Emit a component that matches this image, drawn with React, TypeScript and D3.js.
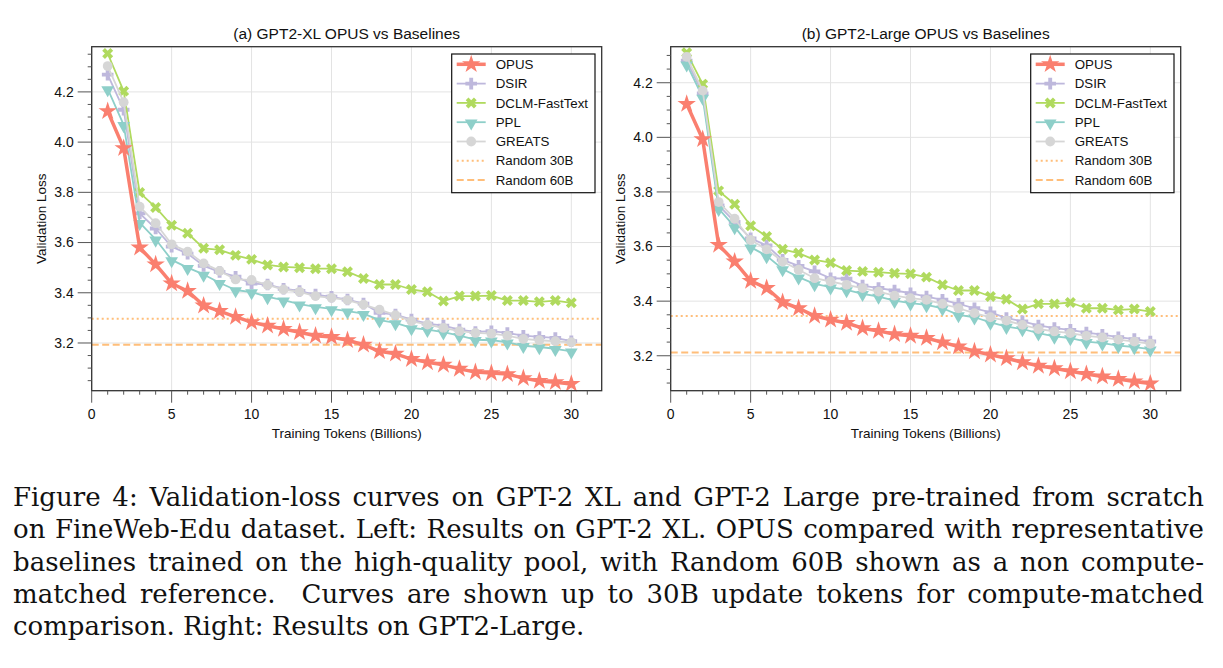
import React from 'react';
import * as d3 from 'd3';

// training tokens (billions)
const tokens = [1,2,3,4,5,6,7,8,9,10,11,12,13,14,15,16,17,18,19,20,21,22,23,24,25,26,27,28,29,30];

// (a) GPT2-XL
const xlOpus = [4.123,3.976,3.58,3.513,3.437,3.407,3.349,3.327,3.304,3.283,3.269,3.256,3.243,3.229,3.224,3.211,3.193,3.167,3.157,3.136,3.123,3.113,3.097,3.084,3.08,3.076,3.06,3.049,3.044,3.037];
const xlDsir = [4.269,4.129,3.716,3.656,3.584,3.556,3.507,3.483,3.464,3.437,3.433,3.416,3.407,3.393,3.384,3.373,3.357,3.32,3.313,3.293,3.277,3.269,3.253,3.244,3.247,3.24,3.229,3.224,3.22,3.207];
const xlDclm = [4.353,4.203,3.799,3.74,3.669,3.637,3.577,3.571,3.549,3.533,3.511,3.503,3.5,3.496,3.496,3.484,3.457,3.433,3.433,3.413,3.404,3.367,3.387,3.387,3.389,3.369,3.369,3.364,3.369,3.36];
const xlPpl = [4.212,4.069,3.679,3.613,3.531,3.5,3.473,3.44,3.411,3.403,3.384,3.371,3.355,3.344,3.336,3.327,3.317,3.291,3.28,3.26,3.253,3.243,3.229,3.213,3.211,3.203,3.189,3.184,3.177,3.167];
const xlGreats = [4.303,4.159,3.743,3.677,3.593,3.564,3.517,3.487,3.453,3.451,3.431,3.413,3.404,3.387,3.38,3.371,3.353,3.333,3.311,3.287,3.273,3.26,3.247,3.24,3.237,3.229,3.216,3.211,3.207,3.203];
const xlRandom = [3.297, 3.193]; // 30B, 60B

// (b) GPT2-Large
const lgOpus = [4.122,3.993,3.606,3.545,3.474,3.448,3.396,3.374,3.346,3.332,3.32,3.301,3.291,3.279,3.273,3.265,3.249,3.234,3.216,3.204,3.191,3.176,3.163,3.154,3.143,3.133,3.124,3.115,3.106,3.098];
const lgDsir = [4.281,4.161,3.751,3.69,3.63,3.604,3.551,3.529,3.509,3.484,3.482,3.457,3.448,3.439,3.429,3.417,3.405,3.39,3.374,3.359,3.338,3.326,3.311,3.301,3.295,3.285,3.277,3.268,3.261,3.252];
const lgDclm = [4.31,4.195,3.804,3.755,3.676,3.637,3.59,3.576,3.551,3.541,3.512,3.509,3.506,3.502,3.5,3.488,3.46,3.439,3.439,3.417,3.407,3.371,3.39,3.39,3.395,3.374,3.374,3.368,3.371,3.362];
const lgPpl = [4.268,4.146,3.739,3.672,3.598,3.566,3.518,3.488,3.463,3.451,3.441,3.427,3.417,3.402,3.393,3.386,3.374,3.35,3.341,3.322,3.307,3.298,3.283,3.271,3.265,3.252,3.246,3.237,3.232,3.224];
const lgGreats = [4.295,4.171,3.763,3.702,3.624,3.59,3.545,3.515,3.484,3.472,3.46,3.448,3.435,3.42,3.411,3.405,3.39,3.374,3.356,3.341,3.329,3.313,3.298,3.289,3.283,3.273,3.267,3.259,3.252,3.244];
const lgRandom = [3.346, 3.212];

const methods = ['OPUS', 'DSIR', 'DCLM-FastText', 'PPL', 'GREATS'];
const randomNames = ['Random 30B', 'Random 60B'];
const xTicks = [0, 5, 10, 15, 20, 25, 30];
const yTicks = [3.2, 3.4, 3.6, 3.8, 4.0, 4.2];

const captionLines = [
  'Figure 4: Validation-loss curves on GPT-2 XL and GPT-2 Large pre-trained from scratch',
  'on FineWeb-Edu dataset. Left: Results on GPT-2 XL. OPUS compared with representative',
  'baselines trained on the high-quality pool, with Random 60B shown as a non compute-',
  'matched reference.  Curves are shown up to 30B update tokens for compute-matched',
  'comparison. Right: Results on GPT2-Large.',
];

const colors = ['#FA7F6F', '#BEB8DC', '#B0DA5E', '#8ECFC9', '#D6D6D6'];
const randColor = '#FFBE7A';
const font = '"Liberation Sans", Arial, sans-serif';

const star = d3.symbol(d3.symbolStar, 105)();
const plus = d3.symbol(d3.symbolCross, 75)();
const circle = d3.symbol(d3.symbolCircle, 75)();
const tri = d3.symbol(d3.symbolTriangle, 70)();

const Marker = ({ i, x, y }: { i: number; x: number; y: number }) => {
  const c = colors[i];
  if (i === 0) return <path d={star} transform={`translate(${x},${y})`} fill={c} />;
  if (i === 1) return <path d={plus} transform={`translate(${x},${y})`} fill={c} />;
  if (i === 2) return <path d={plus} transform={`translate(${x},${y}) rotate(45)`} fill={c} />;
  if (i === 3) return <path d={tri} transform={`translate(${x},${y + 1}) rotate(180)`} fill={c} />;
  return <path d={circle} transform={`translate(${x},${y})`} fill={c} />;
};

type PanelProps = {
  title: string;
  left: number;
  yDomain: [number, number];
  series: number[][];
  random: number[];
};

const Panel = ({ title, left, yDomain, series, random }: PanelProps) => {
  const top = 46.7, bottom = 390.7;
  const x = d3.scaleLinear().domain([0, 31.9]).range([left, left + 510]);
  const y = d3.scaleLinear().domain(yDomain).range([bottom, top]);
  const right = left + 510;
  const line = d3.line<number>().x((_, k) => x(tokens[k])).y(d => y(d));
  const xMinor = d3.range(0, 32, 1).filter(v => v % 5 !== 0);
  const yMinor = d3.range(Math.ceil(yDomain[0] / 0.05) * 0.05, yDomain[1], 0.05)
    .filter(v => Math.abs(v * 5 - Math.round(v * 5)) > 0.01);
  const order = [1, 2, 3, 4, 0];
  const lx = right - 150, ly = top + 7.3;
  return (
    <g>
      {xTicks.map(t => <line key={'gx' + t} x1={x(t)} x2={x(t)} y1={top} y2={bottom} stroke="#e3e3e3" strokeWidth={1} />)}
      {yTicks.map(t => <line key={'gy' + t} x1={left} x2={right} y1={y(t)} y2={y(t)} stroke="#e3e3e3" strokeWidth={1} />)}
      <line x1={left} x2={right} y1={y(random[0])} y2={y(random[0])} stroke={randColor} strokeWidth={2} strokeDasharray="2 3" />
      <line x1={left} x2={right} y1={y(random[1])} y2={y(random[1])} stroke={randColor} strokeWidth={2} strokeDasharray="7 3.5" />
      {order.map(i => (
        <g key={'s' + i}>
          <path d={line(series[i]) || ''} fill="none" stroke={colors[i]} strokeWidth={i === 0 ? 3.5 : 1.8} strokeLinejoin="round" />
          {series[i].map((v, k) => <Marker key={k} i={i} x={x(tokens[k])} y={y(v)} />)}
        </g>
      ))}
      <rect x={left} y={top} width={right - left} height={bottom - top} fill="none" stroke="#333" strokeWidth={1.3} />
      {xTicks.map(t => (
        <g key={'xt' + t}>
          <line x1={x(t)} x2={x(t)} y1={bottom} y2={bottom + 12} stroke="#555" strokeWidth={1} />
          <text x={x(t)} y={bottom + 28.5} textAnchor="middle" fontSize={14} fontFamily={font} fill="#111">{t}</text>
        </g>
      ))}
      {xMinor.map(t => <line key={'xm' + t} x1={x(t)} x2={x(t)} y1={bottom} y2={bottom + 4} stroke="#555" strokeWidth={1} />)}
      {yTicks.map(t => (
        <g key={'yt' + t}>
          <line x1={left - 14} x2={left} y1={y(t)} y2={y(t)} stroke="#555" strokeWidth={1} />
          <text x={left - 18} y={y(t)} dy="0.35em" textAnchor="end" fontSize={14} fontFamily={font} fill="#111">{t.toFixed(1)}</text>
        </g>
      ))}
      {yMinor.map(t => <line key={'ym' + t} x1={left - 4} x2={left} y1={y(t)} y2={y(t)} stroke="#555" strokeWidth={1} />)}
      <text x={(left + right) / 2} y={39} textAnchor="middle" fontSize={15.5} fontFamily={font} fill="#111">{title}</text>
      <text x={(left + right) / 2} y={438} textAnchor="middle" fontSize={13.5} fontFamily={font} fill="#111">Training Tokens (Billions)</text>
      <text transform={`translate(${left - 50},${(top + bottom) / 2}) rotate(-90)`} textAnchor="middle" dy="0.35em" fontSize={13.5} fontFamily={font} fill="#111">Validation Loss</text>
      <g transform={`translate(${lx},${ly})`}>
        <rect x={0} y={0} width={143.3} height={138.7} fill="white" stroke="#111" strokeWidth={1.2} />
        {methods.map((m, i) => (
          <g key={m} transform={`translate(0,${10.3 + i * 19.3})`}>
            <line x1={5} x2={34} y1={0} y2={0} stroke={colors[i]} strokeWidth={i === 0 ? 3.5 : 1.8} />
            <Marker i={i} x={19.5} y={0} />
            <text x={44} y={0} dy="0.35em" fontSize={13.3} fontFamily={font} fill="#111">{m}</text>
          </g>
        ))}
        {randomNames.map((m, j) => (
          <g key={m} transform={`translate(0,${10.3 + (5 + j) * 19.3})`}>
            <line x1={5} x2={34} y1={0} y2={0} stroke={randColor} strokeWidth={2} strokeDasharray={j === 0 ? '2 3' : '7 3.5'} />
            <text x={44} y={0} dy="0.35em" fontSize={13.3} fontFamily={font} fill="#111">{m}</text>
          </g>
        ))}
      </g>
    </g>
  );
};

export default function App() {
  return (
    <div style={{ position: 'absolute', left: 0, top: 0, width: 1223, height: 668, background: 'white' }}>
      <svg width={1223} height={668} style={{ position: 'absolute', left: 0, top: 0 }}>
        <rect width={1223} height={668} fill="white" />
        <Panel title="(a) GPT2-XL OPUS vs Baselines" left={91.7} yDomain={[3.01, 4.38]}
          series={[xlOpus, xlDsir, xlDclm, xlPpl, xlGreats]} random={xlRandom} />
        <Panel title="(b) GPT2-Large OPUS vs Baselines" left={670.7} yDomain={[3.072, 4.332]}
          series={[lgOpus, lgDsir, lgDclm, lgPpl, lgGreats]} random={lgRandom} />
      </svg>
      <div style={{ position: 'absolute', left: 13, top: 481, width: 1191, fontFamily: '"DejaVu Serif", "Liberation Serif", serif', fontSize: 26, color: '#111' }}>
        {captionLines.map((t, i) => (
          <div key={i} style={{ height: 32.3, lineHeight: '32.3px', whiteSpace: 'pre', textAlign: 'justify', textAlignLast: i < 4 ? 'justify' : 'left' }}>{t}</div>
        ))}
      </div>
    </div>
  );
}
